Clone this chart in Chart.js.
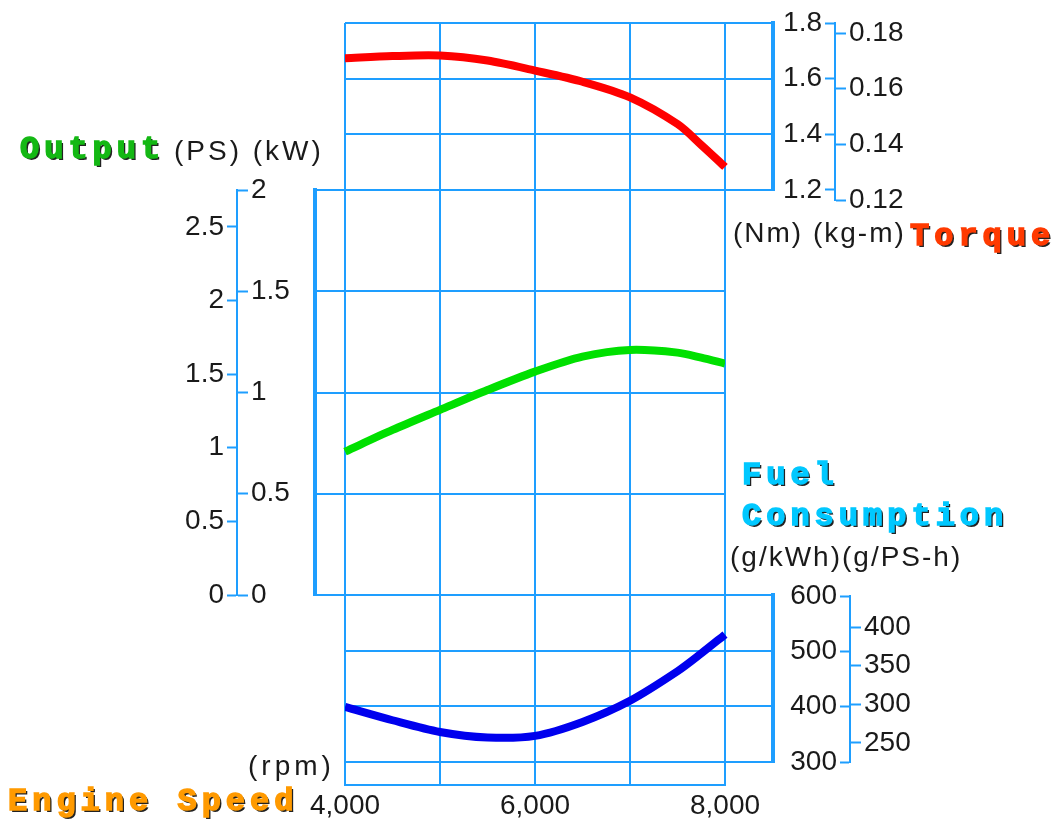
<!DOCTYPE html>
<html>
<head>
<meta charset="utf-8">
<title>Engine Performance Curve</title>
<script src="https://cdn.jsdelivr.net/npm/chart.js@4.4.1/dist/chart.umd.min.js"></script>
<style>
  body { margin: 0; background: #fff; }
  #stage { position: relative; width: 1063px; height: 828px; overflow: hidden; }
  #stage canvas { position: absolute; left: 0; top: 0; }
  .unit { position: absolute; font: 28px/28px "Liberation Sans", Arial, sans-serif; letter-spacing: 2px; color: #1a1a1a; white-space: nowrap; }
  .ttl { position: absolute; font: bold 32px/32px "Liberation Mono", "Courier New", monospace; letter-spacing: 5px; white-space: nowrap; text-shadow: 2px 2px 0 #222; -webkit-text-stroke: 1.5px currentColor; }
</style>
</head>
<body>
<div id="stage">
  <canvas id="cGrid" width="1063" height="828"></canvas>
  <canvas id="cTorque" width="1063" height="828"></canvas>
  <canvas id="cOutput" width="1063" height="828"></canvas>
  <canvas id="cFuel" width="1063" height="828"></canvas>
  <canvas id="bTorque" width="1063" height="828"></canvas>
  <canvas id="bOutput" width="1063" height="828"></canvas>
  <canvas id="bFuel" width="1063" height="828"></canvas>

  <div class="ttl" style="left:20px;top:134px;color:#14b814">Output</div>
  <div class="unit" style="left:174px;top:137px;letter-spacing:3px">(PS) (kW)</div>
  <div class="unit" style="left:733px;top:219px">(Nm) (kg-m)</div>
  <div class="ttl" style="left:910px;top:221px;color:#ff3a00">Torque</div>
  <div class="ttl" style="left:742px;top:460px;color:#00c8ff">Fuel</div>
  <div class="ttl" style="left:742px;top:501px;color:#00c8ff">Consumption</div>
  <div class="unit" style="left:730px;top:543px">(g/kWh)(g/PS-h)</div>
  <div class="unit" style="left:248px;top:752px;letter-spacing:4px">(rpm)</div>
  <div class="ttl" style="left:8px;top:786px;color:#ff9a00">Engine Speed</div>
</div>

<script>
    /* curve samples */
    const rpm = [4000, 4500, 5000, 5500, 6000, 6500, 7000, 7500, 7750, 8000];
    const torqueNm = [1.673, 1.681, 1.683, 1.665, 1.629, 1.589, 1.533, 1.437, 1.362, 1.283];
    const outputKw = [0.708, 0.815, 0.914, 1.012, 1.103, 1.177, 1.210, 1.197, 1.172, 1.143];
    const fuelGkwh = [399, 375, 354, 344, 347, 372, 410, 463, 495, 529];

    /* tick values */
    const rpmGrid = [4000, 5000, 6000, 7000, 8000];
    const rpmLabels = [4000, 6000, 8000];
    const torqueNmTicks = [1.2, 1.4, 1.6, 1.8];
    const torqueKgmTicks = [0.12, 0.14, 0.16, 0.18];
    const outputPsTicks = [0, 0.5, 1, 1.5, 2, 2.5];
    const outputKwTicks = [0, 0.5, 1, 1.5, 2];
    const fuelKwhTicks = [300, 400, 500, 600];
    const fuelPshTicks = [250, 300, 350, 400];

    const BLUE = '#1e9eff';
    Chart.defaults.font.family = '"Liberation Sans", Arial, sans-serif';
    Chart.defaults.font.size = 28;
    Chart.defaults.color = '#1a1a1a';

    function ticksAt(values) {
        return function (scale) {
            scale.ticks = values.map(v => ({ value: v }));
        };
    }
    const plain = v => String(v);

    function hiddenX(min, max) {
        return { type: 'linear', min: min, max: max, display: false };
    }

    // grid lines of a box + its thick edge, no labels
    function boxY(position, min, max, values) {
        return {
            type: 'linear', axis: 'y', position: position, min: min, max: max,
            afterBuildTicks: ticksAt(values),
            afterFit: s => { s.width = 0; },
            ticks: { display: false },
            grid: { color: BLUE, lineWidth: 2, drawTicks: false },
            border: { display: true, color: BLUE, width: 4 }
        };
    }

    // one side of a two-unit bracket scale
    function bracketY(position, min, max, values, width, showBorder) {
        return {
            type: 'linear', axis: 'y', position: position, min: min, max: max,
            afterBuildTicks: ticksAt(values),
            afterFit: s => { s.width = width; },
            ticks: { callback: plain, padding: 3, autoSkip: false },
            grid: { drawOnChartArea: false, color: BLUE, tickColor: BLUE, tickLength: 10, tickWidth: 2 },
            border: { display: showBorder, color: BLUE, width: 2 }
        };
    }

    function curve(values, color) {
        return {
            data: rpm.map((r, i) => ({ x: r, y: values[i] })),
            borderColor: color,
            borderWidth: 8,
            pointRadius: 0,
            tension: 0.3,
            fill: false
        };
    }

    function makeChart(id, padding, scales, datasets) {
        return new Chart(document.getElementById(id), {
            type: 'line',
            data: { datasets: datasets },
            options: {
                responsive: false,
                animation: false,
                events: [],
                layout: { padding: padding },
                plugins: { legend: { display: false }, tooltip: { enabled: false } },
                scales: scales
            }
        });
    }

    /* vertical rpm grid + rpm labels */
    makeChart('cGrid', { left: 345, right: 338, top: 23, bottom: 0 }, {
        x: {
            type: 'linear', min: 4000, max: 8000,
            afterBuildTicks: ticksAt(rpmGrid),
            afterFit: s => { s.height = 43; },
            ticks: {
                callback: v => rpmLabels.includes(v) ? v.toLocaleString('en-US') : '',
                autoSkip: false, maxRotation: 0, padding: 4
            },
            grid: { color: BLUE, lineWidth: 2, drawTicks: false },
            border: { color: BLUE, width: 2 }
        },
        y: { type: 'linear', display: false }
    }, []);

    /* boxes with curves */
    makeChart('cTorque', { left: 345, right: 290, top: 23, bottom: 638 }, {
        x: hiddenX(4000, 8505),
        y: boxY('right', 1.2, 1.8, torqueNmTicks)
    }, [curve(torqueNm, '#ff0000')]);

    makeChart('cOutput', { left: 315, right: 338, top: 190, bottom: 233 }, {
        x: hiddenX(3684, 8000),
        y: boxY('left', 0, 2, outputKwTicks)
    }, [curve(outputKw, '#00e000')]);

    makeChart('cFuel', { left: 345, right: 290, top: 595, bottom: 66 }, {
        x: hiddenX(4000, 8505),
        y: boxY('right', 300, 600, fuelKwhTicks)
    }, [curve(fuelGkwh, '#0000ee')]);

    /* bracket scales, two units each */
    makeChart('bTorque', { left: 775, right: 147, top: 23, bottom: 628 }, {
        x: hiddenX(0, 1),
        nm: bracketY('left', 1.164, 1.8, torqueNmTicks, 60, true),
        kgm: bracketY('right', 0.12, 0.1836, torqueKgmTicks, 80, false)
    }, []);

    makeChart('bOutput', { left: 177, right: 765, top: 190, bottom: 233 }, {
        x: hiddenX(0, 1),
        ps: bracketY('left', 0, 2.751, outputPsTicks, 60, true),
        kw: bracketY('right', 0, 2, outputKwTicks, 60, false)
    }, []);

    makeChart('bFuel', { left: 780, right: 132, top: 596, bottom: 66 }, {
        x: hiddenX(0, 1),
        kwh: bracketY('left', 300, 600, fuelKwhTicks, 70, true),
        psh: bracketY('right', 225.4, 440.1, fuelPshTicks, 80, false)
    }, []);
</script>
</body>
</html>
